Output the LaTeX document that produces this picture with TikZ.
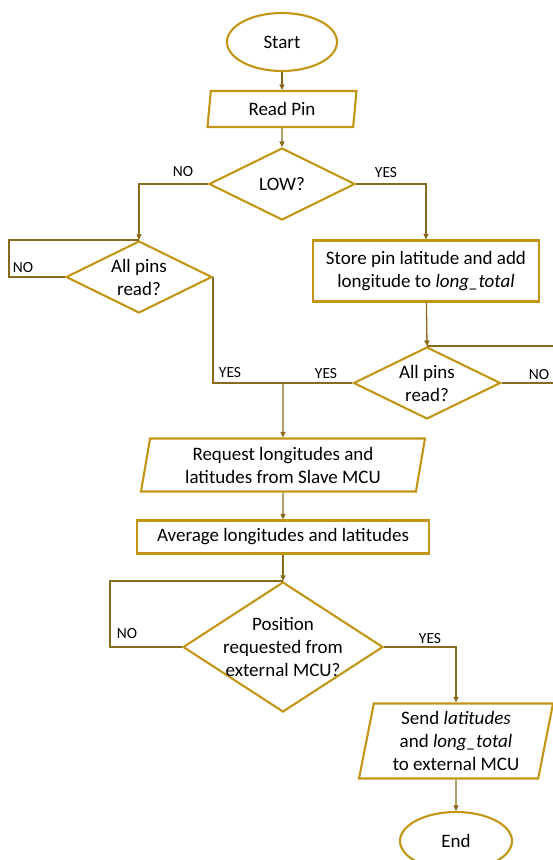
\documentclass[tikz,border=0pt]{standalone}
\usepackage{fontspec}
\setmainfont{Carlito}
\usetikzlibrary{shapes.geometric}
\usetikzlibrary{arrows.meta}

\definecolor{gold}{RGB}{194,150,20}
\definecolor{olive}{RGB}{136,106,28}

\begin{document}
\begin{tikzpicture}[x=1pt, y=-1pt,
    every node/.style={font=\fontsize{19}{23}\selectfont, align=center},
    box/.style={draw=gold, line width=2.1pt, fill=white},
    term/.style={box, ellipse, minimum width=110pt, minimum height=58pt},
    proc/.style={box, rectangle, inner sep=0pt},
    io/.style={box, trapezium, trapezium left angle=76, trapezium right angle=104,
      trapezium stretches body, inner sep=0pt},
    decide/.style={box, diamond, inner sep=0pt},
    line/.style={draw=olive, line width=1.3pt, -{Triangle[length=5.5pt,width=5pt]}},
    link/.style={draw=olive, line width=1.3pt},
    tag/.style={font=\fontsize{15.5}{17}\selectfont, inner sep=1pt}]
    \useasboundingbox (0,0) rectangle (552,860);

    % nodes
    \node[term] (start) at (282,42) {Start};
    \node[io, minimum width=149pt, minimum height=36pt] (read) at (282,109) {Read Pin};
    \node[decide, aspect=2, minimum width=146pt, minimum height=72pt] (low) at (282,184) {LOW?};
    \node[decide, aspect=2, minimum width=146pt, minimum height=72pt] (pinsA) at (139,277) {All pins\\read?};
    \node[proc, minimum width=226pt, minimum height=61pt] (store) at (426,271)
      {Store pin latitude and add\\longitude to \textit{long\_total}};
    \node[decide, aspect=2, minimum width=147pt, minimum height=72pt] (pinsB) at (427,383) {All pins\\read?};
    \coordinate (join) at (283,383);
    \node[io, minimum width=284pt, minimum height=53pt] (req) at (283,465)
      {Request longitudes and\\latitudes from Slave MCU};
    \node[proc, minimum width=292pt, minimum height=33pt] (avg) at (283,537)
      {Average longitudes and latitudes};
    \node[decide, aspect=1.54, inner sep=-4pt, minimum width=200pt, minimum height=130pt] (pos) at (283,647)
      {Position\\requested from\\external MCU?};
    \node[io, minimum width=194pt, minimum height=75pt] (send) at (456,741)
      {Send \textit{latitudes}\\and \textit{long\_total}\\to external MCU};
    \node[term, minimum width=112pt] (end) at (456,841) {End};

    % labels
    \node[tag] (noA) at (183,172) {NO};
    \node[tag] (yesA) at (386,173) {YES};
    \node[tag] (noB) at (23,268) {NO};
    \node[tag] (yesB) at (230,373) {YES};
    \node[tag] (yesC) at (326,374) {YES};
    \node[tag] (noC) at (539,375) {NO};
    \node[tag] (noD) at (127,634) {NO};
    \node[tag] (yesD) at (430,639) {YES};

    % connectors
    \draw[line] (start) -- (read);
    \draw[line] (read) -- (low);
    \draw[line] (low.west) -| (pinsA.north);
    \draw[line] (low.east) -| (store.north);
    \draw[link] (pinsA.west) -- ++(-56,0) |- (pinsA.north);
    \draw[line] (store) -- (pinsB.north);
    \draw[link] (pinsB.east) -- ++(70,0) |- (pinsB.north);
    \draw[link] (pinsA.east) |- (join);
    \draw[link] (pinsB.west) -- (join);
    \draw[line] (join) -- (req.north);
    \draw[line] (req) -- (avg);
    \draw[line] (avg) -- (pos.north);
    \draw[link] (pos.west) -- ++(-72,0) |- (pos.north);
    \draw[line] (pos.east) -| (send.north);
    \draw[line] (send) -- (end);
\end{tikzpicture}
\end{document}
